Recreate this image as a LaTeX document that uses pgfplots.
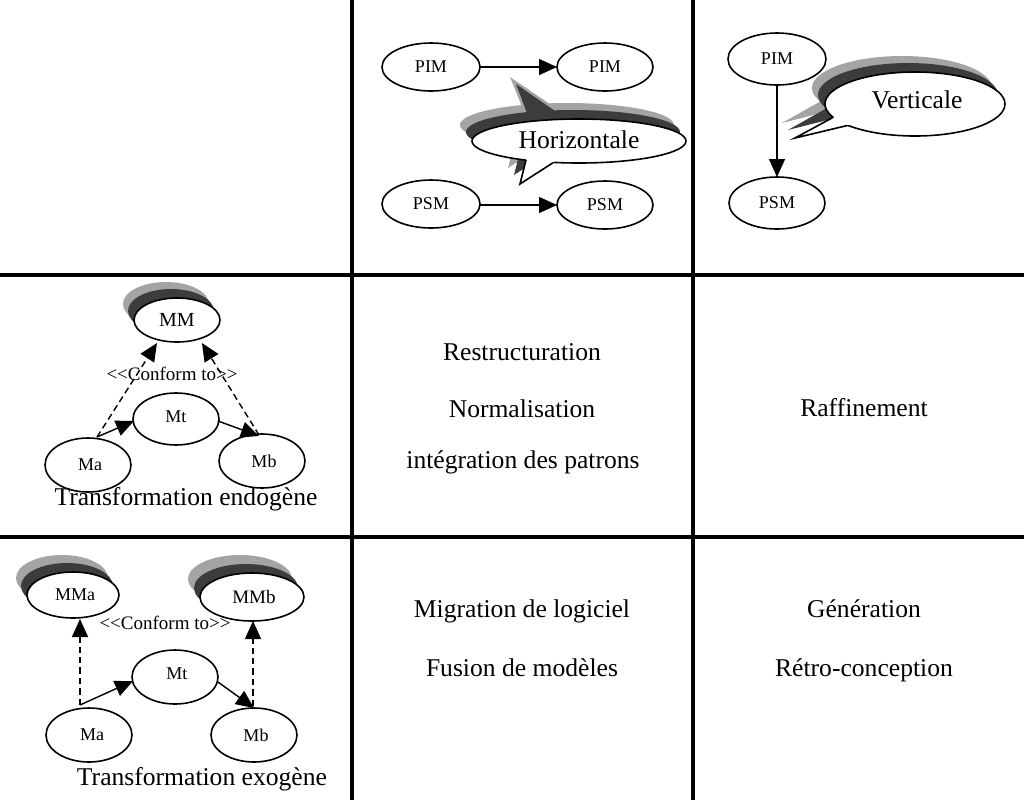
\documentclass[border=0pt]{standalone}
\usepackage{fontspec}
\setmainfont{Liberation Serif}
\usepackage{pgfplots}
\pgfplotsset{compat=1.18}
\usetikzlibrary{arrows.meta,shapes.geometric}
\definecolor{shlight}{HTML}{A4A4A4}
\definecolor{shdark}{HTML}{3C3C3C}
\begin{document}
\begin{tikzpicture}[
  big/.style={font=\fontsize{12.8}{15}\selectfont, anchor=base, inner sep=0pt},
  lab/.style={font=\fontsize{9}{11}\selectfont, inner sep=0pt},
  conf/.style={font=\fontsize{9.5}{11}\selectfont, inner sep=0pt},
  ell/.style={line width=0.8pt, draw=black, fill=white},
]
\pgfplotsset{
  arr/.style={black, line width=0.7pt, no markers, -{Triangle[length=9pt,width=8pt]}},
  darr/.style={arr, dash pattern=on 3.2pt off 2pt},
}
\begin{axis}[width=512pt, height=400pt, scale only axis,
  xmin=0, xmax=1024, ymin=0, ymax=800, y dir=reverse,
  hide axis, clip=false]

% ---- grid lines
\addplot[black, line width=2pt, no markers] coordinates {(352,0) (352,800)};
\addplot[black, line width=2pt, no markers] coordinates {(693,0) (693,800)};
\addplot[black, line width=2pt, no markers] coordinates {(0,275) (1024,275)};
\addplot[black, line width=2pt, no markers] coordinates {(0,537) (1024,537)};

% ================= top-middle: horizontale
\draw[ell] (axis cs:431,67) ellipse [x radius=24.5pt, y radius=12pt];
\draw[ell] (axis cs:605,67) ellipse [x radius=24pt, y radius=12pt];
\draw[ell] (axis cs:431,204) ellipse [x radius=24.5pt, y radius=12pt];
\draw[ell] (axis cs:605,205) ellipse [x radius=24pt, y radius=12pt];
\node[lab] at (axis cs:431,67) {PIM};
\node[lab] at (axis cs:605,67) {PIM};
\node[lab] at (axis cs:431,204) {PSM};
\node[lab] at (axis cs:605,205) {PSM};
\addplot[arr] coordinates {(480,67) (557,67)};
\addplot[arr] coordinates {(480,205) (557,205)};

% callout shadows
\fill[shlight] (axis cs:567,125) ellipse [x radius=53.5pt, y radius=11pt];
\fill[shlight] (axis cs:516,136) -- (axis cs:508,168) -- (axis cs:553,139) -- cycle;
\fill[shlight] (axis cs:525,114) -- (axis cs:510,77) -- (axis cs:563,113) -- cycle;
\fill[shdark] (axis cs:573,132) ellipse [x radius=53.5pt, y radius=11pt];
\fill[shdark] (axis cs:522,143) -- (axis cs:514,175) -- (axis cs:559,146) -- cycle;
\fill[shdark] (axis cs:530,121) -- (axis cs:516,84) -- (axis cs:568,120) -- cycle;
% callout body
\fill[white] (axis cs:579,141) ellipse [x radius=53.5pt, y radius=11pt];
\fill[white] (axis cs:528,152) -- (axis cs:520,184) -- (axis cs:565,155) -- cycle;
\begin{scope}[even odd rule]
\clip (axis cs:0,0) rectangle (axis cs:1024,800) (axis cs:579,141) ellipse [x radius=53.5pt, y radius=11pt];
\draw[line width=0.8pt, line join=miter] (axis cs:528,152) -- (axis cs:520,184) -- (axis cs:565,155);
\end{scope}
\begin{scope}[even odd rule]
\clip (axis cs:0,0) rectangle (axis cs:1024,800) (axis cs:528,152) -- (axis cs:520,184) -- (axis cs:565,155) -- cycle;
\draw[line width=0.8pt] (axis cs:579,141) ellipse [x radius=53.5pt, y radius=11pt];
\end{scope}
\node[big, anchor=center] at (axis cs:579,140) {Horizontale};

% ================= top-right: verticale
\draw[ell] (axis cs:777,59) ellipse [x radius=24.5pt, y radius=13pt];
\draw[ell] (axis cs:777,203) ellipse [x radius=24pt, y radius=13pt];
\node[lab] at (axis cs:777,59) {PIM};
\node[lab] at (axis cs:777,203) {PSM};
\addplot[arr] coordinates {(777,85) (777,177)};

\fill[shlight] (axis cs:902,88) ellipse [x radius=45pt, y radius=16pt];
\fill[shlight] (axis cs:830,96) -- (axis cs:782,123) -- (axis cs:849,106) -- cycle;
\fill[shdark] (axis cs:908,95) ellipse [x radius=45pt, y radius=16pt];
\fill[shdark] (axis cs:836,103) -- (axis cs:788,130) -- (axis cs:855,113) -- cycle;
\fill[white] (axis cs:915,104) ellipse [x radius=45pt, y radius=16pt];
\fill[white] (axis cs:843,112) -- (axis cs:795,138) -- (axis cs:862,122) -- cycle;
\begin{scope}[even odd rule]
\clip (axis cs:0,0) rectangle (axis cs:1024,800) (axis cs:915,104) ellipse [x radius=45pt, y radius=16pt];
\draw[line width=0.8pt, line join=miter] (axis cs:843,112) -- (axis cs:795,138) -- (axis cs:862,122);
\end{scope}
\begin{scope}[even odd rule]
\clip (axis cs:0,0) rectangle (axis cs:1024,800) (axis cs:843,112) -- (axis cs:795,138) -- (axis cs:862,122) -- cycle;
\draw[line width=0.8pt] (axis cs:915,104) ellipse [x radius=45pt, y radius=16pt];
\end{scope}
\node[big, anchor=center] at (axis cs:917,100) {Verticale};

% ================= middle-left: endogene
\fill[shlight] (axis cs:166,304) ellipse [x radius=21.5pt, y radius=11pt];
\fill[shdark] (axis cs:171,311) ellipse [x radius=21.5pt, y radius=11pt];
\draw[ell] (axis cs:177,320) ellipse [x radius=21.5pt, y radius=11pt];
\draw[ell] (axis cs:176,419) ellipse [x radius=21.5pt, y radius=13pt];
\draw[ell] (axis cs:88,465) ellipse [x radius=21.5pt, y radius=13.5pt];
\draw[ell] (axis cs:262,461) ellipse [x radius=21.5pt, y radius=13.5pt];
\node[lab, font=\fontsize{10}{12}\selectfont] at (axis cs:177,320) {MM};
\node[lab] at (axis cs:176,417) {Mt};
\node[lab] at (axis cs:90,465) {Ma};
\node[lab] at (axis cs:264,461) {Mb};
\addplot[darr] coordinates {(97,437) (157,343)};
\addplot[darr] coordinates {(259,435) (202,343)};
\addplot[arr] coordinates {(97,437) (134,421)};
\addplot[arr] coordinates {(218,421) (259,436)};
\node[conf] at (axis cs:172,374) {{<}{<}Conform to{>}{>}};
\node[big] at (axis cs:186,505) {Transformation endogène};

% ================= bottom-left: exogene
\fill[shlight] (axis cs:62,578) ellipse [x radius=23pt, y radius=11.5pt];
\fill[shdark] (axis cs:67,586) ellipse [x radius=23pt, y radius=11.5pt];
\draw[ell] (axis cs:73,595) ellipse [x radius=23pt, y radius=11.5pt];
\fill[shlight] (axis cs:240,579) ellipse [x radius=26pt, y radius=12pt];
\fill[shdark] (axis cs:246,588) ellipse [x radius=26pt, y radius=12pt];
\draw[ell] (axis cs:252,597) ellipse [x radius=26pt, y radius=12pt];
\draw[ell] (axis cs:175,677) ellipse [x radius=21.5pt, y radius=13.5pt];
\draw[ell] (axis cs:89,735) ellipse [x radius=21.5pt, y radius=13.5pt];
\draw[ell] (axis cs:254,735) ellipse [x radius=21.5pt, y radius=13.5pt];
\node[lab] at (axis cs:75,595) {MMa};
\node[lab, font=\fontsize{9.5}{11}\selectfont] at (axis cs:254,597) {MMb};
\node[lab] at (axis cs:177,674) {Mt};
\node[lab] at (axis cs:92,735) {Ma};
\node[lab] at (axis cs:256,735) {Mb};
\addplot[darr] coordinates {(80,705) (80,619)};
\addplot[darr] coordinates {(253,706) (253,621)};
\addplot[arr] coordinates {(80,705) (133,681)};
\addplot[arr] coordinates {(218,682) (254,708)};
\node[conf] at (axis cs:165,623) {{<}{<}Conform to{>}{>}};
\node[big] at (axis cs:202,785) {Transformation exogène};

% ================= text cells
\node[big] at (axis cs:522,360) {Restructuration};
\node[big] at (axis cs:522,417) {Normalisation};
\node[big] at (axis cs:523,468) {intégration des patrons};
\node[big] at (axis cs:864,416) {Raffinement};
\node[big] at (axis cs:522,617) {Migration de logiciel};
\node[big] at (axis cs:522,676) {Fusion de modèles};
\node[big] at (axis cs:864,617) {Génération};
\node[big] at (axis cs:864,676) {Rétro-conception};
\end{axis}
\pgfresetboundingbox
\path (current axis.south west) rectangle (current axis.north east);
\end{tikzpicture}
\end{document}
